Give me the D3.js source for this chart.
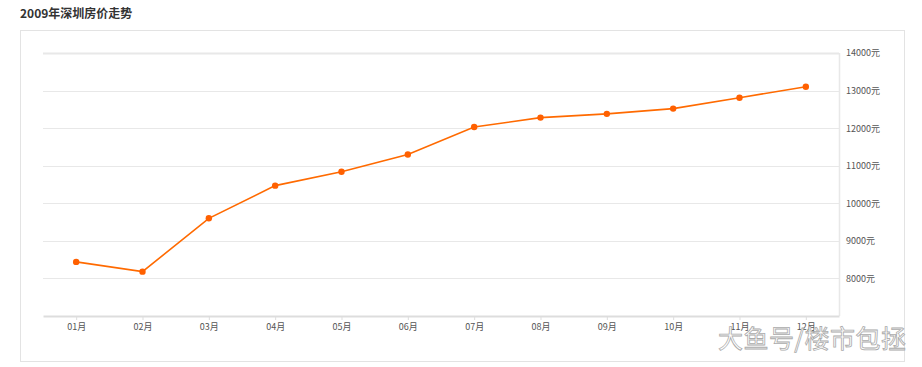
<!DOCTYPE html>
<head>
<meta charset="utf-8">
<script src="https://d3js.org/d3.v7.min.js"></script>
<style>
  body { margin: 0; background: #fff; }
  text { font-family: "Noto Sans CJK SC", "Noto Sans", sans-serif; }
</style>
</head>
<body>
<div id="chart"></div>
<script>

// chart data
var months = ["01月", "02月", "03月", "04月", "05月", "06月", "07月", "08月", "09月", "10月", "11月", "12月"];
var prices = [8440, 8180, 9600, 10470, 10840, 11300, 12030, 12280, 12380, 12520, 12810, 13100];
var yTicks = [8000, 9000, 10000, 11000, 12000, 13000, 14000];

var width = 922,
    height = 367;

var svg = d3.select("#chart")
    .append("svg")
    .attr("width", width)
    .attr("height", height);

// title
svg.append("text")
    .attr("x", 20)
    .attr("y", 18)
    .attr("font-size", 12)
    .attr("font-weight", "bold")
    .attr("fill", "#333")
    .text("2009年深圳房价走势");

// outer panel
svg.append("rect")
    .attr("x", 20.5)
    .attr("y", 30.5)
    .attr("width", 884)
    .attr("height", 331)
    .attr("fill", "none")
    .attr("stroke", "#e3e3e3");

// plot area bounds (avoid the name "top", it is window.top)
var plotLeft = 43, plotRight = 839, plotTop = 53, plotBottom = 316;

var x = d3.scalePoint()
    .domain(months)
    .range([plotLeft, plotRight])
    .padding(0.5);

var y = d3.scaleLinear()
    .domain([7000, 14000])
    .range([plotBottom, plotTop]);

// horizontal grid lines
svg.append("g")
    .selectAll("line")
    .data(yTicks)
    .enter().append("line")
    .attr("x1", plotLeft)
    .attr("x2", plotRight)
    .attr("y1", d => Math.round(y(d)) + 0.5)
    .attr("y2", d => Math.round(y(d)) + 0.5)
    .attr("stroke", "#e8e8e8")
    .attr("stroke-width", d => d == 14000 ? 2 : 1);

// right border of the plot
svg.append("line")
    .attr("x1", plotRight + 0.5)
    .attr("x2", plotRight + 0.5)
    .attr("y1", plotTop)
    .attr("y2", plotBottom)
    .attr("stroke", "#e8e8e8")
    .attr("stroke-width", 1.5);

// y axis on the right
var yAxis = svg.append("g")
    .attr("transform", "translate(" + (plotRight + 7) + ",0)")
    .call(d3.axisRight(y).tickValues(yTicks).tickSize(0).tickFormat(d => d + "元"));
yAxis.select(".domain").remove();
yAxis.selectAll("text")
    .attr("x", 0)
    .attr("font-size", 9)
    .attr("fill", "#555")
    .style("font-family", "\"Noto Sans CJK SC\", sans-serif");

// x axis
var xAxis = svg.append("g")
    .attr("transform", "translate(0," + plotBottom + ")")
    .call(d3.axisBottom(x).tickSize(4).tickSizeOuter(0));
xAxis.select(".domain")
    .attr("stroke", "#ddd")
    .attr("stroke-width", 2);
xAxis.selectAll(".tick line")
    .attr("stroke", "#ddd");
xAxis.selectAll("text")
    .attr("y", 8)
    .attr("font-size", 9)
    .attr("fill", "#555")
    .style("font-family", "\"Noto Sans CJK SC\", sans-serif");

// price line
var line = d3.line()
    .x((d, i) => x(months[i]))
    .y(d => y(d));

svg.append("path")
    .datum(prices)
    .attr("d", line)
    .attr("fill", "none")
    .attr("stroke", "#ff6a00")
    .attr("stroke-width", 1.6);

svg.append("g")
    .selectAll("circle")
    .data(prices)
    .enter().append("circle")
    .attr("cx", (d, i) => x(months[i]))
    .attr("cy", d => y(d))
    .attr("r", 3.2)
    .attr("fill", "#ff6000");

// watermark (sits over the last x labels, as in the source image)
svg.append("text")
    .attr("x", 718)
    .attr("y", 348)
    .attr("font-size", 25)
    .attr("fill", "#fff")
    .attr("stroke", "#aaa")
    .attr("stroke-width", 0.8)
    .attr("textLength", 188)
    .text("大鱼号/楼市包拯");

</script>
</body>
